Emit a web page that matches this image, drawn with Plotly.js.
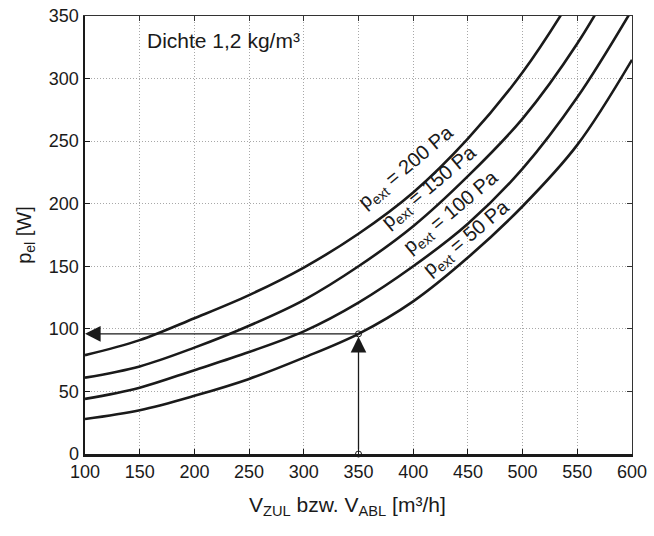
<!DOCTYPE html>
<html>
<head>
<meta charset="utf-8">
<script src="https://cdn.plot.ly/plotly-3.0.1.min.js"></script>
<style>html,body{margin:0;padding:0;background:#fff;}#chart{width:654px;height:536px;}</style>
</head>
<body>
<div id="chart"></div>
<script>
// Volume flow [m³/h]
const flow = [100, 150, 200, 250, 300, 350, 400, 450, 500, 550, 600];
// Electrical power [W] for each external pressure
const p200 = [79, 91, 108.5, 127, 149, 176, 209, 252, 305, 372, 450];
const p150 = [61, 70, 85, 102.5, 123, 150, 182, 222, 268, 328, 403];
const p100 = [44, 53, 67, 81.5, 98, 121, 150, 184, 228, 285, 355];
const p50  = [28, 35, 46.5, 60, 77, 96, 122, 157, 198, 247, 315];
const curveNames = ["200", "150", "100", "50"];
// Operating point example
const opFlow = [350];
const opPower = [96];
const xTicks = [100, 150, 200, 250, 300, 350, 400, 450, 500, 550, 600];
const yTicks = [0, 50, 100, 150, 200, 250, 300, 350];

const series = [p200, p150, p100, p50];
const FONT = "Liberation Sans, Arial, sans-serif";
const ink = "#1a1a1a";

function interp(xs, ys, x) {
  for (let i = 0; i < xs.length - 1; i++) {
    if (x >= xs[i] && x <= xs[i + 1]) {
      const t = (x - xs[i]) / (xs[i + 1] - xs[i]);
      return ys[i] + t * (ys[i + 1] - ys[i]);
    }
  }
  return ys[ys.length - 1];
}

const traces = series.map((ys) => ({
  x: flow, y: ys, type: "scatter", mode: "lines",
  line: {color: ink, width: 2.6, shape: "spline", smoothing: 1},
  hoverinfo: "skip", showlegend: false
}));

traces.push({
  x: [opFlow[0], opFlow[0]], y: [0, opPower[0]], type: "scatter", mode: "markers",
  marker: {symbol: "circle-open", size: 6, color: ink, line: {width: 1}},
  showlegend: false, hoverinfo: "skip", cliponaxis: false
});
traces.push({x: [flow[0]], y: [0], xaxis: "x2", yaxis: "y2", mode: "markers",
  marker: {opacity: 0}, showlegend: false, hoverinfo: "skip"});

const labelX = [394, 415, 435, 449];
const labelShift = [30, 24, 24, 20];
const annotations = series.map((ys, i) => ({
  x: labelX[i], y: interp(flow, ys, labelX[i]), xref: "x", yref: "y",
  text: "p<sub>ext</sub> = " + curveNames[i] + " Pa",
  showarrow: false, textangle: -40, yshift: labelShift[i],
  font: {family: FONT, size: 20, color: ink},
  xanchor: "center", yanchor: "middle"
}));

annotations.push({
  x: flow[0], y: opPower[0], ax: opFlow[0], ay: opPower[0], xref: "x", yref: "y",
  axref: "x", ayref: "y", text: "", showarrow: true, arrowhead: 2, arrowsize: 2.4,
  arrowwidth: 1.3, arrowcolor: ink, standoff: 0, startstandoff: 0
});
annotations.push({
  x: opFlow[0], y: opPower[0], ax: opFlow[0], ay: 0, xref: "x", yref: "y",
  axref: "x", ayref: "y", text: "", showarrow: true, arrowhead: 2, arrowsize: 2.4,
  arrowwidth: 1.3, arrowcolor: ink, standoff: 3, startstandoff: 3
});
annotations.push({
  x: 0.254, y: 0.945, xref: "paper", yref: "paper", showarrow: false,
  text: "Dichte 1,2 kg/m³", font: {family: FONT, size: 21, color: ink},
  xanchor: "center", yanchor: "middle"
});
annotations.push({
  x: 0.479, y: -0.118, xref: "paper", yref: "paper", showarrow: false,
  text: "V<sub>ZUL</sub> bzw. V<sub>ABL</sub> [m³/h]", font: {family: FONT, size: 21, color: ink},
  xanchor: "center", yanchor: "middle"
});

const grid = {showgrid: true, gridcolor: "#a8a8a8", gridwidth: 1, griddash: "1px,2px"};

const layout = {
  width: 654, height: 536,
  margin: {l: 85, r: 22, t: 16, b: 82},
  paper_bgcolor: "#fff", plot_bgcolor: "#fff",
  font: {family: FONT, size: 18, color: ink},
  xaxis: Object.assign({
    range: [100, 600], tickvals: xTicks, ticktext: xTicks.map(String),
    ticks: "inside", ticklen: 5, tickwidth: 1, tickcolor: ink,
    showline: true, linewidth: 2.5, linecolor: ink, zeroline: false,
    tickfont: {family: FONT, size: 18, color: ink}
  }, grid),
  yaxis: Object.assign({
    range: [0, 350], tickvals: yTicks, ticktext: yTicks.map(String),
    ticks: "inside", ticklen: 5, tickwidth: 1, tickcolor: ink,
    showline: true, linewidth: 2.5, linecolor: ink, zeroline: false,
    tickfont: {family: FONT, size: 18, color: ink},
    title: {text: "p<sub>el</sub> [W]", font: {family: FONT, size: 20, color: ink}, standoff: 12}
  }, grid),
  xaxis2: {overlaying: "x", side: "top", range: [100, 600], tickvals: xTicks,
    showticklabels: false, ticks: "inside", ticklen: 5, tickwidth: 1, tickcolor: "#333",
    showline: true, linewidth: 1.3, linecolor: "#333", showgrid: false, zeroline: false},
  yaxis2: {overlaying: "y", side: "right", range: [0, 350], tickvals: yTicks,
    showticklabels: false, ticks: "inside", ticklen: 5, tickwidth: 1, tickcolor: "#333",
    showline: true, linewidth: 1.3, linecolor: "#333", showgrid: false, zeroline: false},
  annotations: annotations,
  showlegend: false
};

Plotly.newPlot("chart", traces, layout, {staticPlot: true, displayModeBar: false});
</script>
</body>
</html>
